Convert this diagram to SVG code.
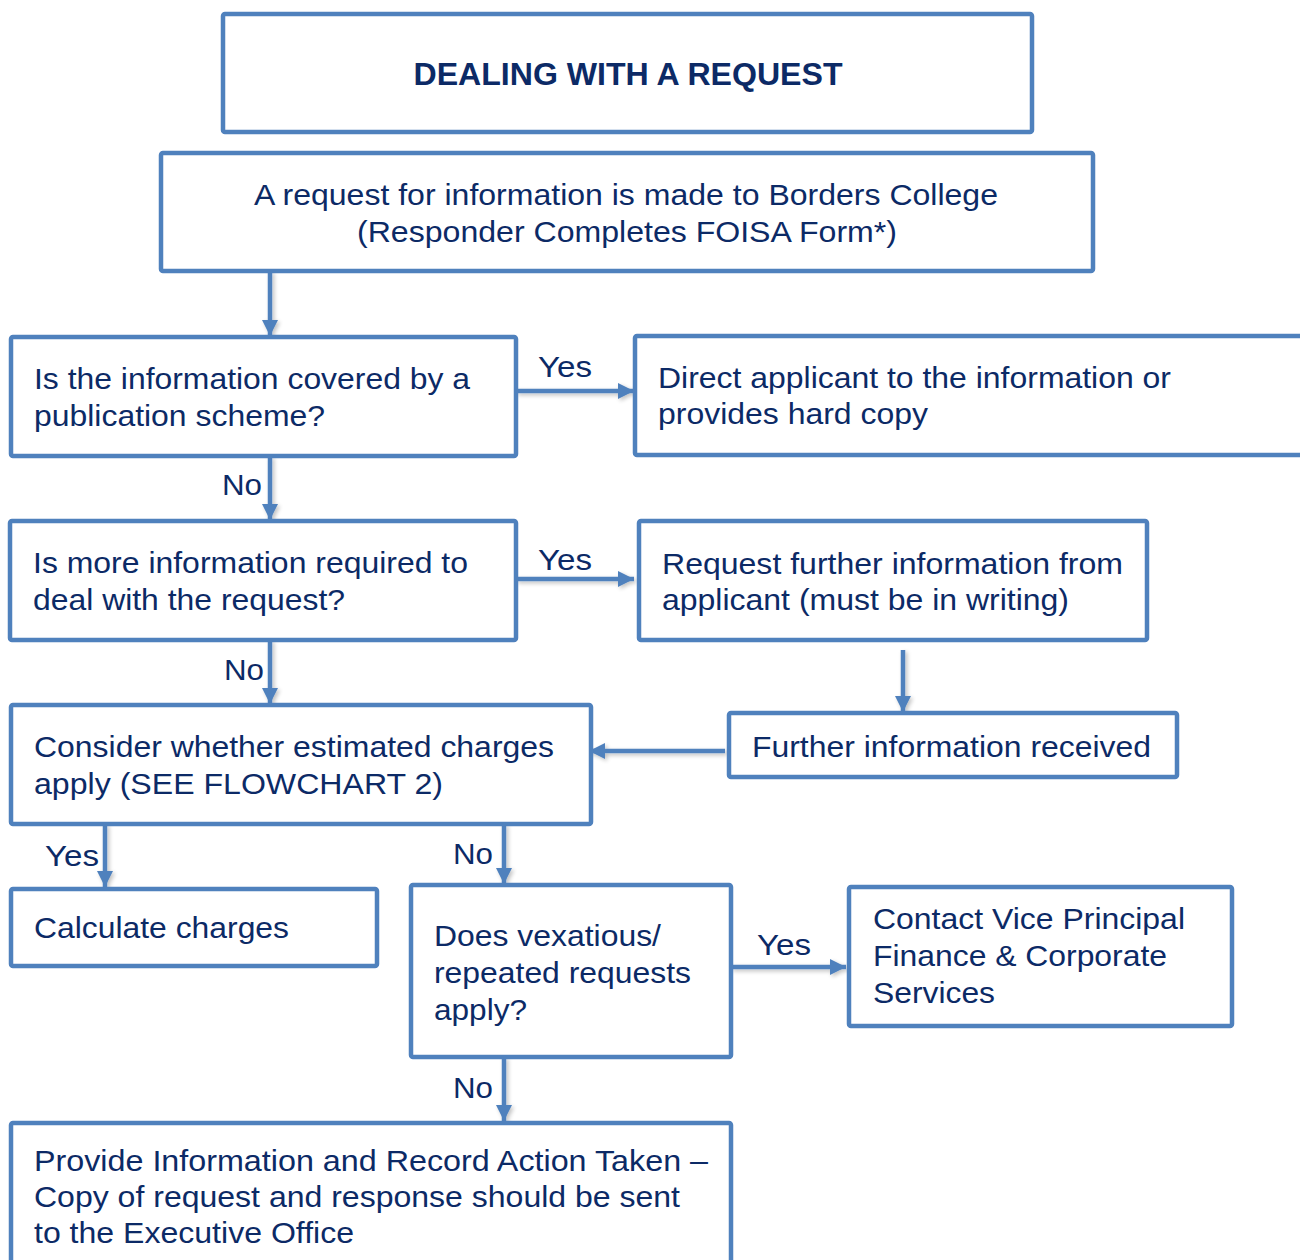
<svg xmlns="http://www.w3.org/2000/svg" width="1300" height="1260" viewBox="0 0 1300 1260">
<style>
.box{fill:#fff;stroke:#4F81BD;stroke-width:4.5}
.t{font-family:"Liberation Sans",Arial,sans-serif;font-size:30px;fill:#0C2A66}
.h{font-family:"Liberation Sans",Arial,sans-serif;font-size:31px;font-weight:bold;fill:#0C2A66}
.c{stroke:#4F81BD;stroke-width:4.5;fill:none;marker-end:url(#ah);filter:url(#sh)}
</style>
<defs>
<marker id="ah" markerWidth="4" markerHeight="4" refX="3.6" refY="2" orient="auto" markerUnits="strokeWidth" viewBox="0 0 4 4">
<path d="M0,0.2 L3.6,2 L0,3.8 Z" fill="#4F81BD"/>
</marker>
<filter id="sh" filterUnits="userSpaceOnUse" x="0" y="0" width="1300" height="1260">
<feGaussianBlur in="SourceAlpha" stdDeviation="2"/>
<feOffset dx="2" dy="2"/>
<feComponentTransfer><feFuncA type="linear" slope="0.25"/></feComponentTransfer>
<feMerge><feMergeNode/><feMergeNode in="SourceGraphic"/></feMerge>
</filter>
</defs>
<rect width="1300" height="1260" fill="#fff"/>
<g id="connectors">
<line class="c" x1="270" y1="271" x2="270" y2="336"/>
<line class="c" x1="516" y1="391" x2="634" y2="391"/>
<line class="c" x1="270" y1="456" x2="270" y2="520"/>
<line class="c" x1="516" y1="579" x2="634" y2="579"/>
<line class="c" x1="903" y1="650" x2="903" y2="712"/>
<line class="c" x1="725" y1="751" x2="589" y2="751"/>
<line class="c" x1="270" y1="640" x2="270" y2="704"/>
<line class="c" x1="105" y1="824" x2="105" y2="887"/>
<line class="c" x1="504" y1="824" x2="504" y2="884"/>
<line class="c" x1="731" y1="967" x2="846" y2="967"/>
<line class="c" x1="504" y1="1057" x2="504" y2="1121"/>
<text class="t" x="538" y="377" textLength="54" lengthAdjust="spacingAndGlyphs">Yes</text>
<text class="t" x="222" y="495" textLength="40" lengthAdjust="spacingAndGlyphs">No</text>
<text class="t" x="538" y="570" textLength="54" lengthAdjust="spacingAndGlyphs">Yes</text>
<text class="t" x="224" y="680" textLength="40" lengthAdjust="spacingAndGlyphs">No</text>
<text class="t" x="45" y="866" textLength="54" lengthAdjust="spacingAndGlyphs">Yes</text>
<text class="t" x="453" y="864" textLength="40" lengthAdjust="spacingAndGlyphs">No</text>
<text class="t" x="757" y="955" textLength="54" lengthAdjust="spacingAndGlyphs">Yes</text>
<text class="t" x="453" y="1098" textLength="40" lengthAdjust="spacingAndGlyphs">No</text>
</g>
<g id="title"><rect class="box" x="223" y="14" width="809" height="118" rx="2"/>
<text class="h" x="628" y="85" text-anchor="middle" textLength="429" lengthAdjust="spacingAndGlyphs">DEALING WITH A REQUEST</text></g>
<g id="request"><rect class="box" x="161" y="153" width="932" height="118" rx="2"/>
<text class="t" x="626" y="205" text-anchor="middle" textLength="744" lengthAdjust="spacingAndGlyphs">A request for information is made to Borders College</text>
<text class="t" x="627" y="242" text-anchor="middle" textLength="540" lengthAdjust="spacingAndGlyphs">(Responder Completes FOISA Form*)</text></g>
<g id="q1"><rect class="box" x="11" y="337" width="505" height="119" rx="2"/>
<text class="t" x="34" y="389" textLength="436" lengthAdjust="spacingAndGlyphs">Is the information covered by a</text>
<text class="t" x="34" y="426" textLength="291" lengthAdjust="spacingAndGlyphs">publication scheme?</text></g>
<g id="direct"><rect class="box" x="635" y="336" width="700" height="119" rx="2"/>
<text class="t" x="658" y="388" textLength="513" lengthAdjust="spacingAndGlyphs">Direct applicant to the information or</text>
<text class="t" x="658" y="424" textLength="270" lengthAdjust="spacingAndGlyphs">provides hard copy</text></g>
<g id="q2"><rect class="box" x="10" y="521" width="506" height="119" rx="2"/>
<text class="t" x="33" y="573" textLength="435" lengthAdjust="spacingAndGlyphs">Is more information required to</text>
<text class="t" x="33" y="610" textLength="312" lengthAdjust="spacingAndGlyphs">deal with the request?</text></g>
<g id="further"><rect class="box" x="639" y="521" width="508" height="119" rx="2"/>
<text class="t" x="662" y="574" textLength="461" lengthAdjust="spacingAndGlyphs">Request further information from</text>
<text class="t" x="662" y="610" textLength="407" lengthAdjust="spacingAndGlyphs">applicant (must be in writing)</text></g>
<g id="received"><rect class="box" x="729" y="713" width="448" height="64" rx="2"/>
<text class="t" x="752" y="757" textLength="399" lengthAdjust="spacingAndGlyphs">Further information received</text></g>
<g id="consider"><rect class="box" x="11" y="705" width="580" height="119" rx="2"/>
<text class="t" x="34" y="757" textLength="520" lengthAdjust="spacingAndGlyphs">Consider whether estimated charges</text>
<text class="t" x="34" y="794" textLength="409" lengthAdjust="spacingAndGlyphs">apply (SEE FLOWCHART 2)</text></g>
<g id="calculate"><rect class="box" x="11" y="889" width="366" height="77" rx="2"/>
<text class="t" x="34" y="938" textLength="255" lengthAdjust="spacingAndGlyphs">Calculate charges</text></g>
<g id="vexatious"><rect class="box" x="411" y="885" width="320" height="172" rx="2"/>
<text class="t" x="434" y="946" textLength="227" lengthAdjust="spacingAndGlyphs">Does vexatious/</text>
<text class="t" x="434" y="983" textLength="257" lengthAdjust="spacingAndGlyphs">repeated requests</text>
<text class="t" x="434" y="1020" textLength="93" lengthAdjust="spacingAndGlyphs">apply?</text></g>
<g id="contact"><rect class="box" x="849" y="887" width="383" height="139" rx="2"/>
<text class="t" x="873" y="929" textLength="312" lengthAdjust="spacingAndGlyphs">Contact Vice Principal</text>
<text class="t" x="873" y="966" textLength="294" lengthAdjust="spacingAndGlyphs">Finance &amp; Corporate</text>
<text class="t" x="873" y="1003" textLength="122" lengthAdjust="spacingAndGlyphs">Services</text></g>
<g id="provide"><rect class="box" x="11" y="1123" width="720" height="200" rx="2"/>
<text class="t" x="34" y="1171" textLength="674" lengthAdjust="spacingAndGlyphs">Provide Information and Record Action Taken –</text>
<text class="t" x="34" y="1207" textLength="646" lengthAdjust="spacingAndGlyphs">Copy of request and response should be sent</text>
<text class="t" x="34" y="1243" textLength="320" lengthAdjust="spacingAndGlyphs">to the Executive Office</text></g>
</svg>
